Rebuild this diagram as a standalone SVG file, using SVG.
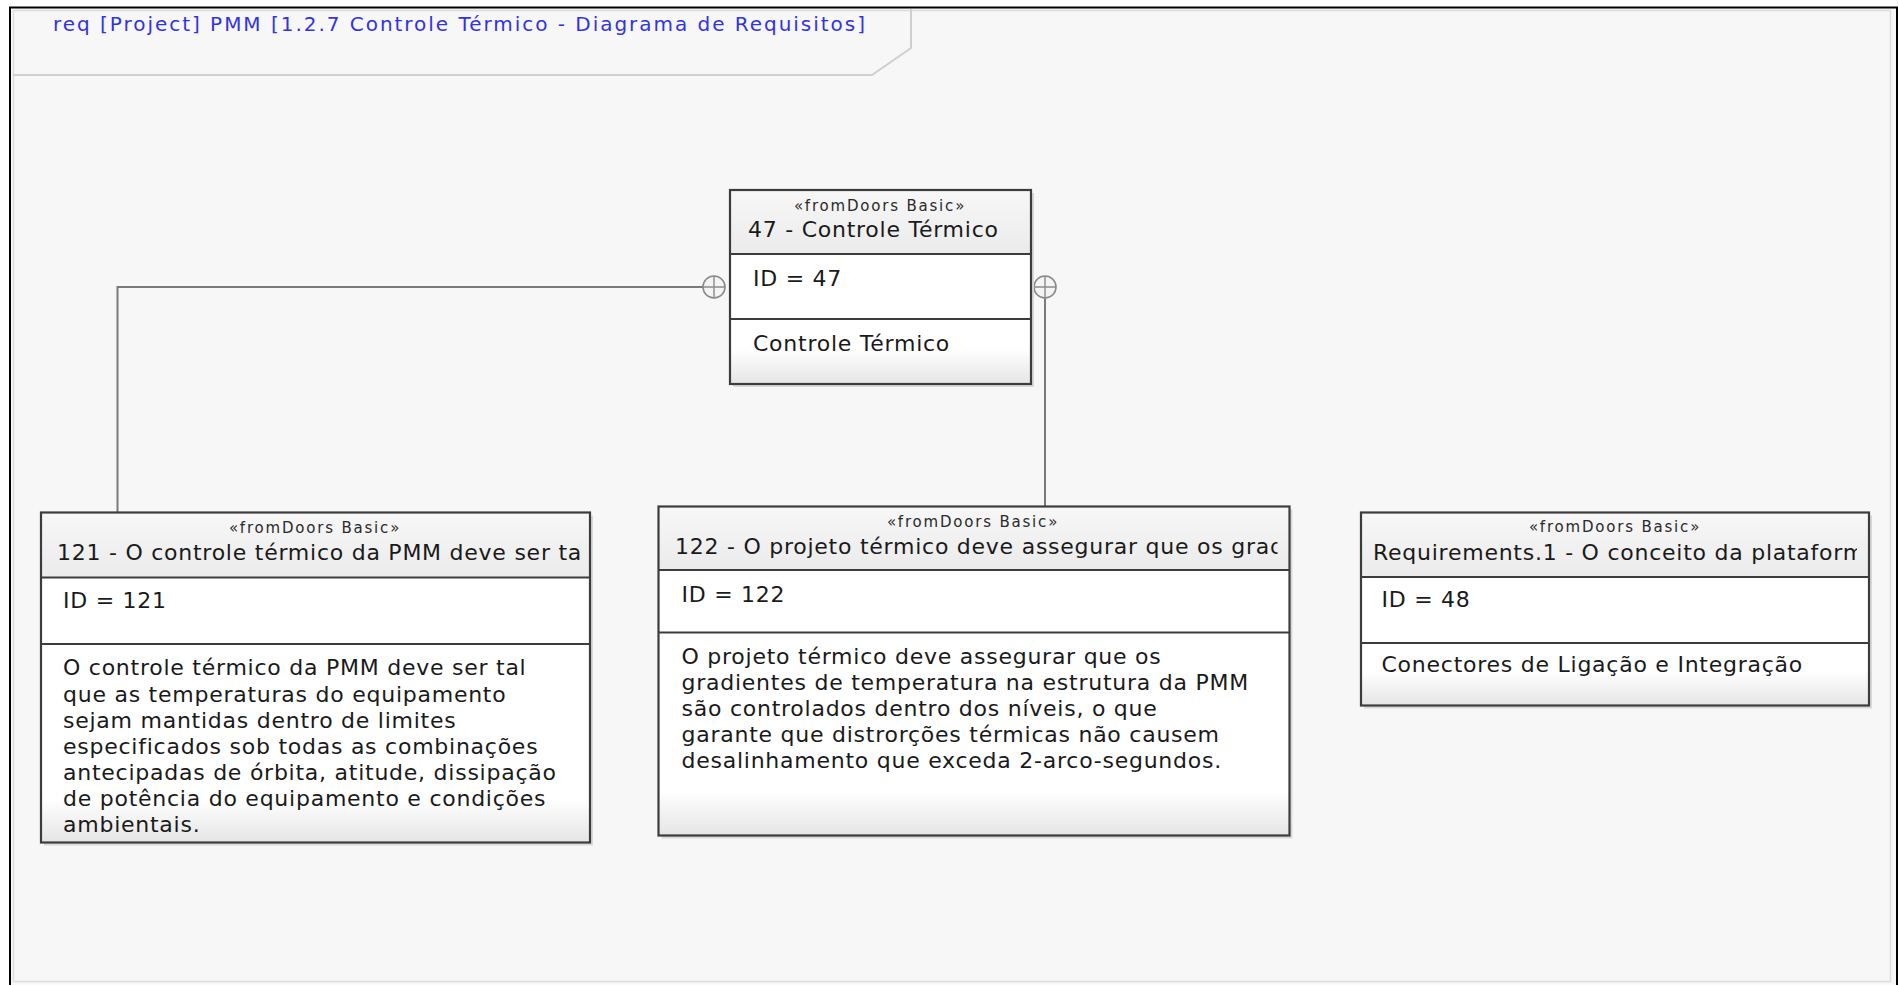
<svg xmlns="http://www.w3.org/2000/svg" width="1899" height="986" viewBox="0 0 1899 986">
<style>
.t{font-family:"DejaVu Sans",Verdana,"Liberation Sans",sans-serif;font-size:22px;letter-spacing:0.75px;fill:#1a1a1a}
.st{font-family:"DejaVu Sans",Verdana,"Liberation Sans",sans-serif;font-size:15px;letter-spacing:1.8px;fill:#2a2a2a;text-anchor:middle}
.ttl{font-family:"DejaVu Sans",Verdana,"Liberation Sans",sans-serif;font-size:20px;fill:#3232e6}
.hdr{fill:url(#gHdr)}
.mid{fill:#ffffff}
.sep{stroke:#3c3c3c;stroke-width:2;fill:none}
.box{stroke:#3c3c3c;stroke-width:2.2;fill:none}
.shadow{fill:#d9d9d9}
.conn{stroke:#7a7a7a;stroke-width:2;fill:none}
.cont{stroke:#8a8a8a;stroke-width:1.6;fill:#f4f4f4}
</style>
<defs>
<linearGradient id="gHdr" x1="0" y1="0" x2="0" y2="1">
<stop offset="0" stop-color="#f7f7f7"/>
<stop offset="1" stop-color="#ebebeb"/>
</linearGradient>
<linearGradient id="gTall" x1="0" y1="0" x2="0" y2="1">
<stop offset="0" stop-color="#ffffff"/>
<stop offset="0.78" stop-color="#ffffff"/>
<stop offset="1" stop-color="#e5e5e5"/>
</linearGradient>
<linearGradient id="gShort" x1="0" y1="0" x2="0" y2="1">
<stop offset="0" stop-color="#ffffff"/>
<stop offset="0.45" stop-color="#ffffff"/>
<stop offset="1" stop-color="#e5e5e5"/>
</linearGradient>
<clipPath id="c121"><rect x="42" y="513" width="541" height="64"/></clipPath>
<clipPath id="c122"><rect x="659.5" y="507.5" width="618" height="62"/></clipPath>
<clipPath id="c48"><rect x="1362" y="513.5" width="495" height="63"/></clipPath>
</defs>

<rect x="0" y="0" width="1899" height="986" fill="#ffffff"/>
<g id="frame">
<rect x="10" y="7.5" width="1887" height="977" fill="#f7f7f7"/>
<path d="M10,985 V7.5 H1897 V985" stroke="#000" stroke-width="2" fill="none"/>
<rect x="13.5" y="10.5" width="1877" height="971" stroke="#dcdcdc" stroke-width="1.5" fill="none"/>
<path d="M13,75 H872 L911,48 V9" stroke="#cfcfcf" stroke-width="2" fill="none"/>
<text class="ttl" x="53" y="31" textLength="812" lengthAdjust="spacing">req [Project] PMM [1.2.7 Controle Térmico - Diagrama de Requisitos]</text>
</g>

<g id="connectors">
<path class="conn" d="M117.5,512 V287 H703"/>
<path class="conn" d="M1045,298 V506"/>
<g id="cont-left">
<circle class="cont" cx="714" cy="287" r="11"/>
<path d="M703,287 H725 M714,276 V298" stroke="#8a8a8a" stroke-width="1.4"/>
</g>
<g id="cont-right">
<circle class="cont" cx="1045" cy="287" r="11"/>
<path d="M1034,287 H1056 M1045,276 V298" stroke="#8a8a8a" stroke-width="1.4"/>
</g>
</g>

<g id="node-47">
<rect class="shadow" x="733" y="193" width="301" height="194"/>
<rect class="hdr" x="730" y="190" width="301" height="64"/>
<rect class="mid" x="730" y="254" width="301" height="65"/>
<rect x="730" y="319" width="301" height="65" fill="url(#gShort)"/>
<path class="sep" d="M730,254 H1031 M730,319 H1031"/>
<rect class="box" x="730" y="190" width="301" height="194"/>
<text class="st" x="880" y="211">«fromDoors Basic»</text>
<text class="t" x="748" y="237">47 - Controle Térmico</text>
<text class="t" x="753" y="285.5">ID = 47</text>
<text class="t" x="753" y="350.5">Controle Térmico</text>
</g>

<g id="node-121">
<rect class="shadow" x="44" y="515.5" width="549" height="330"/>
<rect class="hdr" x="41" y="512.5" width="549" height="65"/>
<rect class="mid" x="41" y="577.5" width="549" height="66.5"/>
<rect x="41" y="644" width="549" height="198.5" fill="url(#gTall)"/>
<path class="sep" d="M41,577.5 H590 M41,644 H590"/>
<rect class="box" x="41" y="512.5" width="549" height="330"/>
<text class="st" x="315" y="533">«fromDoors Basic»</text>
<text class="t" x="57" y="559.5" clip-path="url(#c121)">121 - O controle térmico da PMM deve ser ta</text>
<text class="t" x="63" y="608">ID = 121</text>
<text class="t" x="63" y="675">O controle térmico da PMM deve ser tal</text>
<text class="t" x="63" y="701.5">que as temperaturas do equipamento</text>
<text class="t" x="63" y="727.8">sejam mantidas dentro de limites</text>
<text class="t" x="63" y="754">especificados sob todas as combinações</text>
<text class="t" x="63" y="780.2">antecipadas de órbita, atitude, dissipação</text>
<text class="t" x="63" y="806.4">de potência do equipamento e condições</text>
<text class="t" x="63" y="832.4">ambientais.</text>
</g>

<g id="node-122">
<rect class="shadow" x="661.5" y="509.5" width="631" height="329"/>
<rect class="hdr" x="658.5" y="506.5" width="631" height="63.5"/>
<rect class="mid" x="658.5" y="570" width="631" height="62.5"/>
<rect x="658.5" y="632.5" width="631" height="203" fill="url(#gTall)"/>
<path class="sep" d="M658.5,570 H1289.5 M658.5,632.5 H1289.5"/>
<rect class="box" x="658.5" y="506.5" width="631" height="329"/>
<text class="st" x="973" y="527">«fromDoors Basic»</text>
<text class="t" x="675" y="553.5" clip-path="url(#c122)">122 - O projeto térmico deve assegurar que os grad</text>
<text class="t" x="681.5" y="601.7">ID = 122</text>
<text class="t" x="681.5" y="664">O projeto térmico deve assegurar que os</text>
<text class="t" x="681.5" y="690">gradientes de temperatura na estrutura da PMM</text>
<text class="t" x="681.5" y="716">são controlados dentro dos níveis, o que</text>
<text class="t" x="681.5" y="742.2">garante que distrorções térmicas não causem</text>
<text class="t" x="681.5" y="768.3">desalinhamento que exceda 2-arco-segundos.</text>
</g>

<g id="node-48">
<rect class="shadow" x="1364" y="515.5" width="508" height="193"/>
<rect class="hdr" x="1361" y="512.5" width="508" height="64.5"/>
<rect class="mid" x="1361" y="577" width="508" height="66"/>
<rect x="1361" y="643" width="508" height="62.5" fill="url(#gShort)"/>
<path class="sep" d="M1361,577 H1869 M1361,643 H1869"/>
<rect class="box" x="1361" y="512.5" width="508" height="193"/>
<text class="st" x="1615" y="532">«fromDoors Basic»</text>
<text class="t" x="1373" y="560" clip-path="url(#c48)">Requirements.1 - O conceito da plataform</text>
<text class="t" x="1381.5" y="607.3">ID = 48</text>
<text class="t" x="1381.5" y="671.7">Conectores de Ligação e Integração</text>
</g>
</svg>
